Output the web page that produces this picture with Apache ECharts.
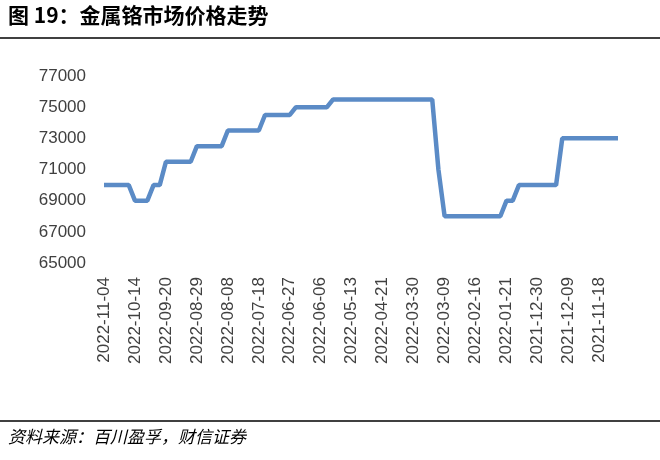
<!DOCTYPE html><html><head><meta charset="utf-8">
<script src="https://cdn.jsdelivr.net/npm/echarts@6/dist/echarts.min.js"></script>
<style>body{margin:0;background:#fff}#c{width:660px;height:460px}</style></head><body><div id="c"></div>
<script>
const tickLabels=["2022-11-04","2022-10-14","2022-09-20","2022-08-29","2022-08-08","2022-07-18","2022-06-27","2022-06-06","2022-05-13","2022-04-21","2022-03-30","2022-03-09","2022-02-16","2022-01-21","2021-12-30","2021-12-09","2021-11-18"];
const prices=[70000,70000,70000,70000,70000,69000,69000,69000,70000,70000,
71500,71500,71500,71500,71500,72500,72500,72500,72500,72500,
73500,73500,73500,73500,73500,73500,74500,74500,74500,74500,74500,
75000,75000,75000,75000,75000,75000,
75500,75500,75500,75500,75500,75500,75500,75500,75500,75500,75500,75500,75500,75500,75500,75500,75500,
71000,
68000,68000,68000,68000,68000,68000,68000,68000,68000,68000,
69000,69000,
70000,70000,70000,70000,70000,70000,70000,
73000,73000,73000,73000,73000,73000,73000,73000,73000,73000];
const cats=prices.map((v,i)=>i%5===0&&tickLabels[i/5]?tickLabels[i/5]:"");
const ch=echarts.init(document.getElementById('c'));
ch.setOption({
graphic:[
{type:'text',left:8,top:5,style:{text:'图 19：金属铬市场价格走势',font:'bold 21px "Noto Sans CJK SC"',fill:'#000'}},
{type:'line',shape:{x1:0,y1:38,x2:660,y2:38},style:{stroke:'#000',lineWidth:1.5}},
{type:'line',shape:{x1:0,y1:421,x2:660,y2:421},style:{stroke:'#000',lineWidth:1.5}},
{type:'text',left:8,top:428,style:{text:'资料来源：百川盈孚，财信证券',font:'italic 17px "Noto Sans CJK SC"',fill:'#000'}}
],
grid:{left:104,right:42,top:76,bottom:197},
xAxis:{type:'category',data:cats,boundaryGap:false,axisLine:{show:false},axisTick:{show:false},
axisLabel:{interval:0,rotate:90,fontSize:17,color:'#404040',fontFamily:'Liberation Sans',margin:14}},
yAxis:{type:'value',min:65000,max:77000,interval:2000,axisLine:{show:false},axisTick:{show:false},splitLine:{show:false},
axisLabel:{fontSize:17,color:'#404040',fontFamily:'Liberation Sans',margin:18,formatter:v=>String(v)}},
series:[{type:'line',data:prices,symbol:'none',lineStyle:{color:'#5b8bc6',width:4.5},itemStyle:{color:'#5b8bc6'}}]
});
</script></body></html>
